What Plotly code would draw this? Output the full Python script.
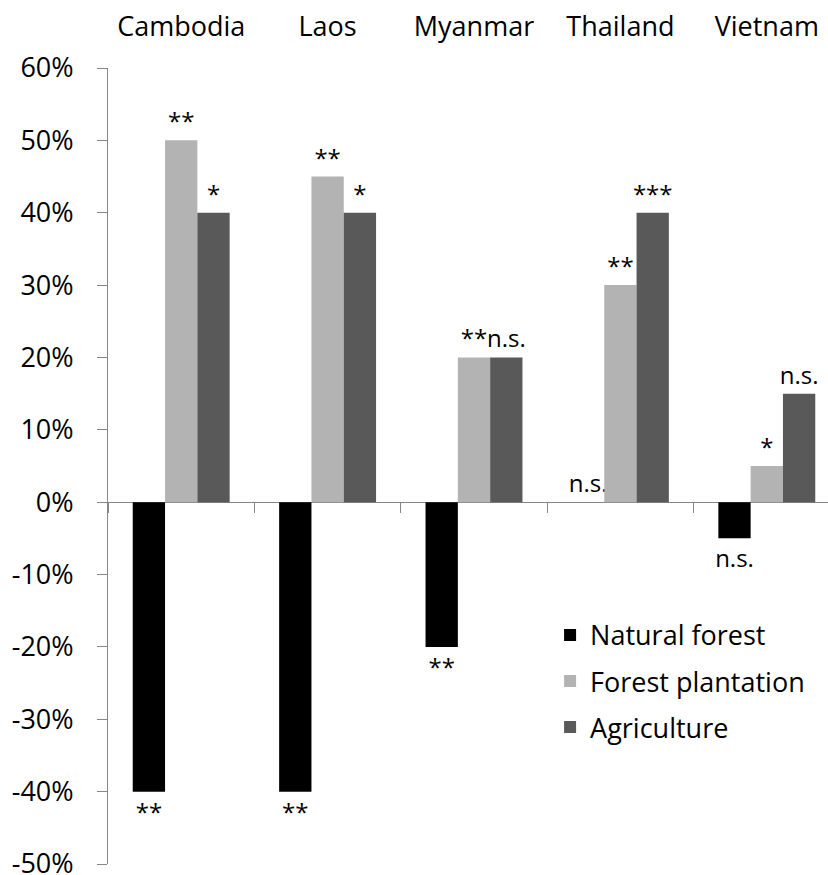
import plotly.graph_objects as go

countries = ["Cambodia", "Laos", "Myanmar", "Thailand", "Vietnam"]
natural_forest = [-0.40, -0.40, -0.20, 0.00, -0.05]
forest_plantation = [0.50, 0.45, 0.20, 0.30, 0.05]
agriculture = [0.40, 0.40, 0.20, 0.40, 0.15]
sig_natural = ["**", "**", "**", "n.s.", "n.s."]
sig_plantation = ["**", "**", "**", "**", "*"]
sig_agriculture = ["*", "*", "n.s.", "***", "n.s."]
y_tick_values = [-0.5, -0.4, -0.3, -0.2, -0.1, 0.0, 0.1, 0.2, 0.3, 0.4, 0.5, 0.6]
y_tick_labels = ["-50%", "-40%", "-30%", "-20%", "-10%", "0%", "10%", "20%", "30%", "40%", "50%", "60%"]

FONT = "Open Sans"
GRAY = "#868686"

fig = go.Figure()
series = [
    ("Natural forest", natural_forest, sig_natural, "#000000"),
    ("Forest plantation", forest_plantation, sig_plantation, "#b3b3b3"),
    ("Agriculture", agriculture, sig_agriculture, "#595959"),
]
for name, vals, sig, color in series:
    fig.add_trace(go.Bar(
        name=name, x=countries, y=vals, text=sig,
        textposition="outside", constraintext="none", cliponaxis=False,
        textfont=dict(family=FONT, size=24, color="black"),
        marker=dict(color=color, line=dict(width=0)),
        legendgroup=name, hoverinfo="skip",
    ))

# invisible helper trace for the category-boundary ticks along the zero line
fig.add_trace(go.Scatter(x=countries, y=[None] * len(countries), xaxis="x2",
                         showlegend=False, hoverinfo="skip", mode="markers"))

fig.update_layout(
    width=828, height=875,
    margin=dict(l=108, r=0, t=68, b=11),
    paper_bgcolor="white", plot_bgcolor="white",
    barmode="group", bargap=0.338, bargroupgap=0,
    font=dict(family=FONT, color="black"),
    showlegend=True,
    legend=dict(x=0.614, y=0.318, xanchor="left", yanchor="top",
                font=dict(family=FONT, size=27, color="black"),
                tracegroupgap=8, bgcolor="rgba(0,0,0,0)"),
    xaxis=dict(side="top", range=[-0.5, 4.418], showline=False, ticks="",
               showgrid=False, zeroline=False, automargin=False,
               tickfont=dict(family=FONT, size=27, color="black"),
               ticklabelstandoff=26),
    xaxis2=dict(overlaying="x", matches="x", anchor="free", position=50 / 110,
                showline=False, ticks="outside", tickson="boundaries", ticklen=10,
                tickcolor=GRAY, tickwidth=1, showticklabels=False, showgrid=False,
                zeroline=False, automargin=False),
    yaxis=dict(range=[-0.5, 0.6], tickvals=y_tick_values, ticktext=y_tick_labels,
               ticks="outside", ticklen=10, tickcolor=GRAY, showline=True,
               linecolor=GRAY, linewidth=1, showgrid=False,
               zeroline=True, zerolinecolor=GRAY, zerolinewidth=1,
               automargin=False, ticklabeloverflow="allow",
               tickfont=dict(family=FONT, size=27, color="black"),
               ticklabelstandoff=18),
)

fig.write_html("out.html", config={"displayModeBar": False},
               post_script="document.body.style.margin='0px';document.body.style.overflow='hidden';")
